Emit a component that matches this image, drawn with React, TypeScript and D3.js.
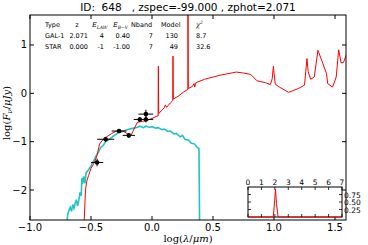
import React from 'react';
import * as d3 from 'd3';

// galaxy template (log lambda, log F)
const galX = [-0.557, -0.545, -0.535, -0.52, -0.5, -0.48, -0.46, -0.45, -0.43, -0.4, -0.36, -0.33, -0.28, -0.24, -0.21, -0.19, -0.17, -0.14, -0.12, -0.08, -0.04, 0.0, 0.04, 0.05, 0.052, 0.055, 0.08, 0.1, 0.11, 0.12, 0.13, 0.15, 0.17, 0.172, 0.175, 0.22, 0.26, 0.294, 0.295, 0.297, 0.33, 0.345, 0.35, 0.36, 0.43, 0.55, 0.69, 0.75, 0.81, 0.86, 0.93, 0.97, 0.985, 0.995, 1.005, 1.01, 1.05, 1.12, 1.2, 1.25, 1.26, 1.27, 1.28, 1.3, 1.33, 1.36, 1.4, 1.43, 1.44, 1.48, 1.51, 1.53, 1.55, 1.57, 1.6];
const galY = [-2.7, -2.0, -1.82, -1.7, -1.55, -1.47, -1.35, -1.28, -1.05, -0.95, -0.88, -0.83, -0.77, -0.78, -0.82, -0.89, -0.86, -0.7, -0.6, -0.58, -0.56, -0.52, -0.47, -0.47, 0.56, -0.42, -0.35, -0.3, -0.24, -0.29, -0.26, -0.2, -0.15, 0.77, -0.12, -0.05, 0.03, 0.08, 1.9, 0.1, 0.14, 0.2, 0.13, 0.22, 0.29, 0.37, 0.44, 0.42, 0.39, 0.26, 0.22, 0.18, 0.3, 0.56, 0.3, 0.19, 0.12, 0.02, 0.1, 0.17, 0.45, 0.72, 0.45, 0.29, 0.34, 0.89, 0.62, 0.41, 0.2, 0.13, 0.34, 0.9, 0.63, 0.64, 0.85];

// stellar template
const starX = [-0.7, -0.69, -0.68, -0.67, -0.66, -0.65, -0.64, -0.63, -0.62, -0.61, -0.6, -0.59, -0.58, -0.575, -0.57, -0.56, -0.55, -0.54, -0.52, -0.5, -0.48, -0.46, -0.44, -0.42, -0.4, -0.38, -0.35, -0.32, -0.28, -0.24, -0.2, -0.15, -0.12, -0.1, -0.07, -0.05, -0.02, 0.0, 0.03, 0.05, 0.08, 0.1, 0.13, 0.15, 0.18, 0.2, 0.23, 0.25, 0.27, 0.3, 0.32, 0.35, 0.37, 0.385, 0.39];
const starY = [-2.7, -2.5, -2.42, -2.36, -2.44, -2.3, -2.38, -2.28, -2.2, -2.33, -2.22, -2.05, -2.12, -1.75, -1.88, -1.72, -1.86, -1.64, -1.58, -1.5, -1.41, -1.3, -1.22, -1.12, -1.08, -1.0, -0.95, -0.89, -0.82, -0.79, -0.75, -0.72, -0.7, -0.68, -0.71, -0.68, -0.7, -0.69, -0.72, -0.71, -0.75, -0.74, -0.79, -0.78, -0.84, -0.83, -0.9, -0.87, -0.95, -0.97, -1.03, -1.05, -1.12, -1.14, -2.7];

// photometry
const obsX = [-0.45, -0.38, -0.27, -0.19, -0.1, -0.05, -0.05];
const obsY = [-1.43, -0.95, -0.78, -0.87, -0.54, -0.43, -0.54];
const obsXErr = [0.05, 0.07, 0.06, 0.05, 0.05, 0.06, 0.06];
const obsYErr = [0.08, 0.05, 0.04, 0.05, 0.05, 0.09, 0.06];

// PDF(z)
const pdfZ = [0, 1.88, 1.98, 2.05, 2.12, 2.24, 7];
const pdfP = [0, 0, 0.5, 0.92, 0.45, 0, 0];

const xTicks = [-1.0, -0.5, 0.0, 0.5, 1.0, 1.5];
const yTicks = [1, 0, -1, -2];
const insetXTicks = [0, 1, 2, 3, 4, 5, 6, 7];
const insetYTicks = [0.25, 0.5, 0.75];

const tableRows = [
  ['GAL-1', '2.071', '4', '0.40', '7', '130', '8.7'],
  ['STAR', '0.000', '-1', '-1.00', '7', '49', '32.6'],
];

const W = 368;
const H = 245;
const L = 30, R = 346, T = 15, B = 220;
const sans = 'DejaVu Sans, sans-serif';
const serif = 'DejaVu Serif, serif';
const minus = (s: string) => s.replace('-', '\u2212');

const App = () => {
  const x = d3.scaleLinear().domain([-1, 1.59]).range([L, R]);
  const y = d3.scaleLinear().domain([-2.62, 1.62]).range([B, T]);

  const galLine = d3.line<number>().x((_, i) => x(galX[i])).y((d) => y(d))(galY) || '';
  const starLine = d3.line<number>().x((_, i) => x(starX[i])).y((d) => y(d))(starY) || '';

  const ix = d3.scaleLinear().domain([0, 7]).range([248, 342]);
  const iy = d3.scaleLinear().domain([0, 1]).range([217, 187]);
  const pdfLine = d3.line<number>().x((_, i) => ix(pdfZ[i])).y((d) => iy(d))(pdfP) || '';

  // column anchors for table
  const colX = [45, 88, 104, 130, 153, 178, 196];
  const colAnchor = ['start', 'end', 'end', 'end', 'end', 'end', 'start'];

  return (
    <svg width={W} height={H} style={{ position: 'absolute', left: 0, top: 0, background: '#fff' }}>
      <defs>
        <clipPath id="plot">
          <rect x={L} y={T} width={R - L} height={B - T} />
        </clipPath>
      </defs>
      <text x={188} y={11} textAnchor="middle" fontFamily={sans} fontSize={10.5} style={{ whiteSpace: 'pre' }}>
        {'ID:  648   , zspec=-99.000 , zphot=2.071'}
      </text>

      <g clipPath="url(#plot)">
        <path d={starLine} fill="none" stroke="#20c4c4" strokeWidth={1.6} />
        <path d={galLine} fill="none" stroke="#ff0000" strokeWidth={1} />
        {obsX.map((d, i) => (
          <g key={i}>
            <line x1={x(d - obsXErr[i])} x2={x(d + obsXErr[i])} y1={y(obsY[i])} y2={y(obsY[i])} stroke="#000" strokeWidth={1} />
            <line x1={x(d)} x2={x(d)} y1={y(obsY[i] - obsYErr[i])} y2={y(obsY[i] + obsYErr[i])} stroke="#000" strokeWidth={1} />
            <circle cx={x(d)} cy={y(obsY[i])} r={2.3} fill="#000" />
          </g>
        ))}
      </g>

      {/* table */}
      <g fontFamily={sans} fontSize={6.5} fill="#000">
        <text x={45} y={27}>Type</text>
        <text x={77} y={27} textAnchor="middle">z</text>
        <text x={92} y={27} fontFamily={serif} fontStyle="italic">E<tspan fontSize={4.5} dy={1.5}>LAW</tspan></text>
        <text x={113} y={27} fontFamily={serif} fontStyle="italic">E<tspan fontSize={4.5} dy={1.5}>B−V</tspan></text>
        <text x={131} y={27}>Nband</text>
        <text x={161} y={27}>Model</text>
        <text x={196} y={27} fontFamily={serif} fontStyle="italic">χ<tspan fontSize={4.5} dy={-3}>2</tspan></text>
        {tableRows.map((row, r) =>
          row.map((c, j) => (
            <text key={r + '-' + j} x={colX[j]} y={38 + r * 10.5} textAnchor={colAnchor[j] as any}>{c}</text>
          ))
        )}
      </g>

      {/* frame */}
      <rect x={L} y={T} width={R - L} height={B - T} fill="none" stroke="#000" strokeWidth={1} />
      {xTicks.map((t) => (
        <g key={t}>
          <line x1={x(t)} x2={x(t)} y1={B} y2={B - 4} stroke="#000" />
          <line x1={x(t)} x2={x(t)} y1={T} y2={T + 4} stroke="#000" />
          <text x={x(t)} y={B + 11} textAnchor="middle" fontFamily={sans} fontSize={10}>{minus(t.toFixed(1))}</text>
        </g>
      ))}
      {yTicks.map((t) => (
        <g key={t}>
          <line x1={L} x2={L + 4} y1={y(t)} y2={y(t)} stroke="#000" />
          <line x1={R} x2={R - 4} y1={y(t)} y2={y(t)} stroke="#000" />
          <text x={L - 3} y={y(t) + 3.5} textAnchor="end" fontFamily={sans} fontSize={10}>{minus(String(t))}</text>
        </g>
      ))}
      <text x={188} y={242} textAnchor="middle" fontFamily={serif} fontSize={10}>
        log(<tspan fontStyle="italic">λ</tspan>/<tspan fontStyle="italic">μm</tspan>)
      </text>
      <text transform="translate(10,113) rotate(-90)" textAnchor="middle" fontFamily={serif} fontSize={10}>
        log(<tspan fontStyle="italic">F</tspan><tspan fontStyle="italic" fontSize={7} dy={2}>ν</tspan><tspan dy={-2}>/</tspan><tspan fontStyle="italic">μJy</tspan>)
      </text>

      {/* inset PDF(z) */}
      <rect x={248} y={187} width={94} height={30} fill="#fff" stroke="#000" strokeWidth={1} />
      <path d={pdfLine} fill="none" stroke="#ff0000" strokeWidth={1} />
      {insetXTicks.map((t) => (
        <g key={t}>
          <line x1={ix(t)} x2={ix(t)} y1={187} y2={190} stroke="#000" strokeWidth={0.8} />
          <line x1={ix(t)} x2={ix(t)} y1={217} y2={214} stroke="#000" strokeWidth={0.8} />
          <text x={ix(t)} y={185} textAnchor="middle" fontFamily={sans} fontSize={7.5}>{t}</text>
        </g>
      ))}
      {insetYTicks.map((t) => (
        <g key={t}>
          <line x1={248} x2={251} y1={iy(t)} y2={iy(t)} stroke="#000" strokeWidth={0.8} />
          <line x1={342} x2={339} y1={iy(t)} y2={iy(t)} stroke="#000" strokeWidth={0.8} />
          <text x={344} y={iy(t) + 3} fontFamily={sans} fontSize={7.5}>{t.toFixed(2)}</text>
        </g>
      ))}
    </svg>
  );
};

export default App;
